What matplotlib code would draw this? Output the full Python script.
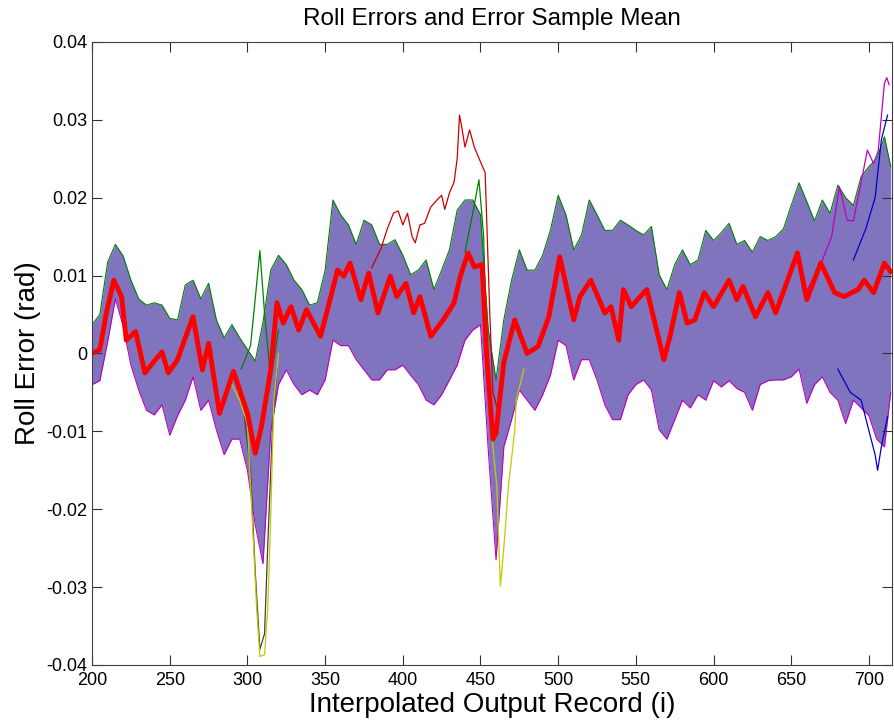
import numpy as np
import matplotlib
matplotlib.use("Agg")
import matplotlib.pyplot as plt

plt.rcParams['font.family'] = ['Liberation Sans', 'DejaVu Sans']

# spread of the Monte Carlo runs (upper / lower edge of the cloud), in 1e-3 rad
env_x = [200, 205, 210, 215, 220, 225, 230, 235, 240, 245, 250, 255, 260, 265, 270, 275,
         280, 285, 290, 295, 300, 305, 310, 315, 320, 325, 330, 335, 340, 345, 350, 355,
         360, 365, 370, 375, 380, 385, 390, 395, 400, 405, 410, 415, 420, 425, 430, 435,
         440, 445, 450, 455, 460, 465, 470, 475, 480, 485, 490, 495, 500, 505, 510, 515,
         520, 525, 530, 535, 540, 545, 550, 555, 560, 565, 570, 575, 580, 585, 590, 595,
         600, 605, 610, 615, 620, 625, 630, 635, 640, 645, 650, 655, 660, 665, 670, 675,
         680, 685, 690, 695, 700, 705, 710, 714]
env_hi = [3.7, 5.0, 11.7, 14.0, 12.5, 9.4, 7.0, 6.2, 6.5, 6.2, 4.5, 4.3, 8.8, 9.4, 7.0, 9.0,
          4.3, 2.0, 3.7, 2.0, 0.5, -1.0, 4.0, 10.7, 12.6, 11.4, 9.4, 8.2, 6.2, 6.5, 10.7, 19.7,
          17.8, 16.5, 14.0, 17.1, 16.5, 14.0, 14.0, 14.6, 12.6, 10.1, 10.7, 12.0, 8.2, 10.7, 13.3, 18.4,
          19.7, 19.7, 17.8, 3.0, -3.4, 4.3, 9.4, 13.3, 10.7, 10.7, 12.6, 15.8, 20.3, 17.8, 13.3, 15.2,
          19.7, 17.8, 15.8, 15.8, 17.1, 16.5, 15.8, 15.2, 16.3, 10.1, 8.2, 11.4, 13.3, 11.4, 12.0, 15.8,
          14.5, 15.5, 16.7, 14.0, 14.5, 13.0, 15.0, 14.5, 15.0, 16.0, 19.0, 21.9, 19.5, 17.0, 19.7, 18.0,
          21.6, 20.0, 19.0, 22.7, 24.0, 25.0, 27.8, 24.0]
env_lo = [-4.0, -3.5, 1.5, 7.0, 3.5, -1.5, -4.7, -7.3, -7.9, -6.6, -10.5, -8.0, -6.0, -3.0, -7.3, -6.0,
          -9.8, -13.0, -11.0, -11.0, -15.0, -22.0, -27.0, -10.0, -4.0, -2.1, -4.0, -5.3, -4.7, -5.3, -3.4, 1.7,
          1.0, 1.0, -0.8, -2.1, -3.4, -3.4, -2.1, -2.1, -1.5, -2.8, -4.0, -6.0, -6.6, -5.3, -3.4, -1.5,
          1.7, 3.0, 3.7, -12.4, -26.5, -12.0, -8.5, -4.7, -6.0, -7.3, -5.3, -2.8, 1.7, 1.0, -3.4, -0.8,
          -0.8, -3.4, -6.6, -8.5, -8.5, -5.3, -4.0, -3.4, -4.7, -9.8, -11.0, -8.5, -6.0, -7.0, -5.3, -6.0,
          -3.5, -4.3, -3.5, -4.5, -5.0, -7.3, -4.0, -3.5, -3.4, -3.4, -3.0, -2.0, -6.4, -4.0, -3.0, -5.0,
          -6.0, -9.0, -6.0, -7.0, -8.0, -11.0, -12.0, -5.0]

# sample mean of the errors, in 1e-3 rad
mean_x = [200, 205, 209, 214, 219, 222, 228, 234, 240, 245, 249, 255, 260, 265, 271, 275,
          282, 291, 300, 305, 309, 315, 319, 323, 328, 333, 338, 347, 352, 358, 362, 366,
          373, 378, 384, 392, 396, 402, 407, 411, 418, 426, 433, 437, 442, 446, 451, 454,
          458, 460, 465, 472, 480, 487, 494, 501, 510, 514, 521, 530, 534, 539, 542, 547,
          551, 557, 568, 572, 578, 583, 588, 594, 600, 610, 615, 619, 627, 635, 640, 654,
          660, 669, 678, 684, 693, 697, 703, 710, 714]
mean_y = [0.0, 0.5, 5.0, 9.4, 7.3, 1.7, 2.8, -2.5, -1.0, 0.2, -2.5, -0.8, 2.0, 4.7, -2.1, 1.3,
          -7.7, -2.3, -7.7, -12.8, -9.4, -2.1, 6.5, 3.9, 6.0, 3.0, 5.6, 2.2, 6.0, 10.7, 9.9, 11.6,
          6.9, 10.3, 5.2, 9.9, 7.3, 9.0, 5.2, 7.3, 2.2, 4.3, 6.5, 9.9, 12.9, 11.1, 11.4, -0.4,
          -11.0, -10.2, -1.2, 4.3, 0.0, 0.9, 4.7, 12.4, 4.3, 7.3, 9.4, 5.2, 6.0, 1.7, 8.2, 6.0,
          6.9, 8.2, -0.8, 2.2, 7.8, 3.9, 4.3, 7.8, 6.0, 9.4, 6.9, 8.6, 4.7, 7.8, 5.2, 12.9,
          6.9, 11.6, 7.8, 7.3, 8.2, 9.4, 7.8, 11.6, 10.5]

# individual runs that leave the cloud, in 1e-3 rad
red_x = [380, 386, 390, 394, 397, 400, 403, 406, 408, 411, 414, 418, 422, 425, 427, 430,
         433, 435, 436.5, 438, 440, 443, 446, 450, 453, 454, 456, 458, 462, 466]
red_y = [11, 13.5, 16, 18, 18.3, 16.5, 18, 15, 14.2, 16.5, 16.7, 18.8, 19.7, 20.3, 18.5, 20.6,
         22, 25, 30.6, 29, 26.5, 28.7, 26.5, 24.6, 23.2, 17.1, 5, -5, -8, 0]
yel_x = [290, 295, 300, 303, 306, 308, 311, 313, 314.7, 317, 320, np.nan,
         453, 456, 460.5, 462.8, 465, 468, 472, 473, 478]
yel_y = [-4, -6, -9, -21, -33, -38.9, -38.7, -33, -23, -6, 0, np.nan,
         2, -8, -17, -29.9, -25, -17, -10, -6, -2]
gry_x = [298, 302, 305, 308, 311, 313, 316, 319]
gry_y = [-8, -15, -28, -38, -36, -25, -10, -2]
grn_x = [296, 302, 305, 308, 311, 315, 320, np.nan, 440, 445, 449, 452, 454, 456]
grn_y = [-2, 1, 7, 13.2, 5.2, -3.4, 3, np.nan, 13, 18, 22.3, 15, 2, -6]
pur_x = [660, 670, 676, 681, 686, 690, 695, 699, 703, 706, 708, 710, 711.5, 713]
pur_y = [8, 12, 15, 21.4, 17.1, 17, 22, 26.1, 24.4, 26, 30.4, 34.7, 35.4, 34.5]
blu_x = [680, 688, 695, 701, 704, 705.6, 708, 712, np.nan, 690, 698, 704, 708, 712]
blu_y = [-2, -5, -6, -10.7, -13, -15, -12, -8.1, np.nan, 12, 16, 20, 27.4, 30.6]

xticks = [200, 250, 300, 350, 400, 450, 500, 550, 600, 650, 700]
yticks = [0.04, 0.03, 0.02, 0.01, 0, -0.01, -0.02, -0.03, -0.04]
ytick_labels = ['0.04', '0.03', '0.02', '0.01', '0', '-0.01', '-0.02', '-0.03', '-0.04']

s = 1e-3
fig = plt.figure(figsize=(8.94, 7.22), dpi=100)
ax = fig.add_axes([0.103, 0.079, 0.895, 0.863])

ax.fill_between(env_x, np.array(env_lo) * s, np.array(env_hi) * s,
                color='#6a5cb4', alpha=0.85, lw=0)
ax.plot(env_x, np.array(env_hi) * s, color='#008000', lw=0.8)
ax.plot(env_x, np.array(env_lo) * s, color='#bf00bf', lw=0.8)
ax.plot(red_x, np.array(red_y) * s, color='#cc0000', lw=0.9)
ax.plot(gry_x, np.array(gry_y) * s, color='#404040', lw=0.9)
ax.plot(yel_x, np.array(yel_y) * s, color='#c8c800', lw=0.9)
ax.plot(grn_x, np.array(grn_y) * s, color='#008000', lw=0.9)
ax.plot(pur_x, np.array(pur_y) * s, color='#bf00bf', lw=0.9)
ax.plot(blu_x, np.array(blu_y) * s, color='#0000cc', lw=0.9)
ax.plot(mean_x, np.array(mean_y) * s, color='#ff0000', lw=3.5)

ax.set_xlim(200, 715)
ax.set_ylim(-0.04, 0.04)
ax.set_xticks(xticks)
ax.set_yticks(yticks)
ax.set_yticklabels(ytick_labels)
ax.tick_params(direction='in', length=7, top=True, right=True, labelsize=13,
               colors='#303030', labelcolor='black')
ax.tick_params(axis='x', pad=5)
for sp in ax.spines.values():
    sp.set_color('#404040')

ax.set_title('Roll Errors and Error Sample Mean', fontsize=17.5, pad=12)
ax.set_xlabel('Interpolated Output Record (i)', fontsize=20, labelpad=2)
ax.set_ylabel('Roll Error (rad)', fontsize=20, labelpad=4)

fig.savefig('out.png', dpi=100)
